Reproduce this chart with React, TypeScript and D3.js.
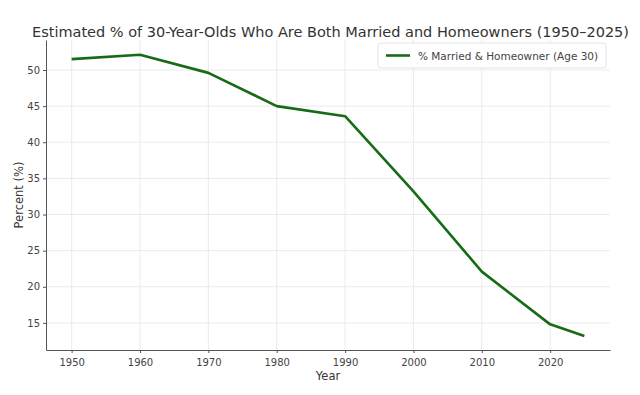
import * as d3 from "d3";
import { useEffect, useRef } from "react";

const years = [1950, 1960, 1970, 1980, 1990, 2000, 2010, 2020, 2025];
const percents = [51.5, 52.1, 49.6, 45.0, 43.6, 33.2, 22.1, 14.8, 13.2];
const xTicks = [1950, 1960, 1970, 1980, 1990, 2000, 2010, 2020];
const yTicks = [15, 20, 25, 30, 35, 40, 45, 50];
const title = "Estimated % of 30-Year-Olds Who Are Both Married and Homeowners (1950–2025)";
const legendLabel = "% Married & Homeowner (Age 30)";

const App = () => {
  const width = 640;
  const height = 395;
  const margin = { top: 40, right: 30, bottom: 45, left: 46 };
  const ref = useRef<SVGSVGElement>(null);

  useEffect(() => {
    if (!ref.current) return;
    const svg = d3.select(ref.current);
    svg.selectAll("*").remove();

    const plotW = width - margin.left - margin.right;
    const plotH = height - margin.top - margin.bottom;
    const font = "DejaVu Sans, sans-serif";
    const textColor = "#444";

    const x = d3.scaleLinear([1946.25, 2028.75], [0, plotW]);
    const y = d3.scaleLinear([11.25, 54.15], [plotH, 0]);

    svg.append("rect").attr("width", width).attr("height", height).attr("fill", "white");

    // title: squeezed to fit like the reference
    svg
      .append("text")
      .attr("transform", "translate(32,37) scale(1,1.08)")
      .attr("font-family", font)
      .attr("font-size", 13.8)
      .attr("fill", "#333")
      .attr("textLength", 597)
      .attr("lengthAdjust", "spacingAndGlyphs")
      .text(title);

    const g = svg.append("g").attr("transform", `translate(${margin.left},${margin.top})`);

    // grid
    g.append("g")
      .selectAll("line")
      .data(xTicks)
      .join("line")
      .attr("x1", (d) => x(d))
      .attr("x2", (d) => x(d))
      .attr("y1", 0)
      .attr("y2", plotH)
      .attr("stroke", "#e6e6e6")
      .attr("stroke-width", 0.8);
    g.append("g")
      .selectAll("line")
      .data(yTicks)
      .join("line")
      .attr("x1", 0)
      .attr("x2", plotW)
      .attr("y1", (d) => y(d))
      .attr("y2", (d) => y(d))
      .attr("stroke", "#e6e6e6")
      .attr("stroke-width", 0.8);

    const xAxis = g
      .append("g")
      .attr("transform", `translate(0,${plotH})`)
      .call(d3.axisBottom(x).tickValues(xTicks).tickFormat(d3.format("d")).tickSize(3).tickSizeOuter(0));
    const yAxis = g
      .append("g")
      .call(d3.axisLeft(y).tickValues(yTicks).tickSize(3).tickSizeOuter(0));

    [xAxis, yAxis].forEach((a) => {
      a.select(".domain").attr("stroke", "#555").attr("stroke-width", 1);
      a.selectAll(".tick line").attr("stroke", "#555");
      a.selectAll(".tick text")
        .attr("font-family", font)
        .attr("font-size", 10)
        .attr("fill", textColor);
    });
    xAxis.selectAll(".tick text").attr("dy", "1.0em");

    g.append("text")
      .attr("x", plotW / 2)
      .attr("y", plotH + 30)
      .attr("text-anchor", "middle")
      .attr("font-family", font)
      .attr("font-size", 11.5)
      .attr("fill", "#333")
      .text("Year");

    g.append("text")
      .attr("transform", `translate(${-23},${plotH / 2}) rotate(-90)`)
      .attr("text-anchor", "middle")
      .attr("font-family", font)
      .attr("font-size", 11.5)
      .attr("fill", "#333")
      .text("Percent (%)");

    const line = d3
      .line<number>()
      .x((_, i) => x(years[i]))
      .y((d) => y(d));

    g.append("path")
      .datum(percents)
      .attr("d", line)
      .attr("fill", "none")
      .attr("stroke", "#176b17")
      .attr("stroke-width", 2.6)
      .attr("stroke-linejoin", "round");

    // legend
    const lg = g.append("g").attr("transform", `translate(${plotW - 232},3)`);
    lg.append("rect")
      .attr("width", 228)
      .attr("height", 25)
      .attr("rx", 3)
      .attr("fill", "white")
      .attr("stroke", "#ddd")
      .attr("stroke-width", 0.8);
    lg.append("line")
      .attr("x1", 8)
      .attr("x2", 32)
      .attr("y1", 12.5)
      .attr("y2", 12.5)
      .attr("stroke", "#176b17")
      .attr("stroke-width", 2.6);
    lg.append("text")
      .attr("x", 40)
      .attr("y", 16.5)
      .attr("font-family", font)
      .attr("font-size", 10.5)
      .attr("fill", textColor)
      .text(legendLabel);
  }, []);

  return <svg ref={ref} width={width} height={height} style={{ display: "block", margin: -8 }} />;
};

export default App;
